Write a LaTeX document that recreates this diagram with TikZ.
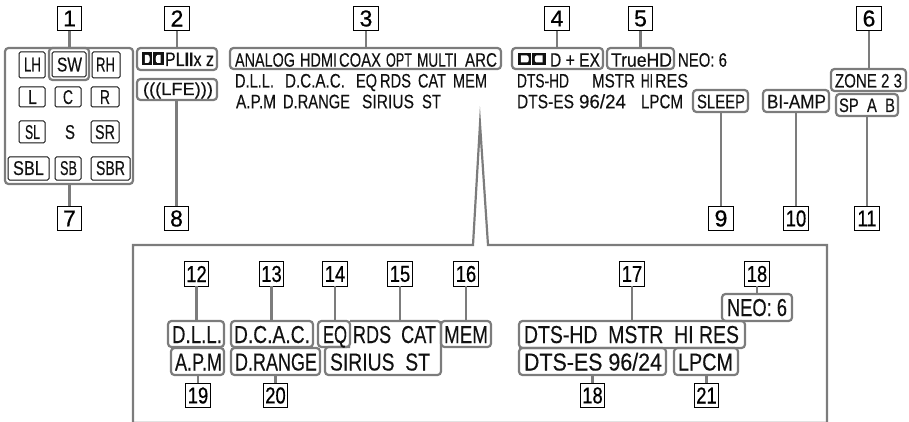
\documentclass[tikz,border=0pt]{standalone}
\usepackage{graphicx}
\usepackage{fontspec}
\setmainfont{Liberation Sans}[FakeBold=0.25]
\newfontfamily\numfont{Liberation Sans}[FakeBold=0.6]
\definecolor{gline}{HTML}{7C7C7C}
\definecolor{ink}{HTML}{111111}
\tikzset{
  gbox/.style={draw=gline,line width=2.2pt,rounded corners=3.5pt,inner sep=0pt,outer sep=0pt},
  conn/.style={draw=gline,line width=2.2pt},
  numbox/.style={draw=black,line width=1pt,fill=white,inner sep=0pt,outer sep=0pt,minimum width=24.5pt,minimum height=24.5pt,text=black,font=\numfont\fontsize{23}{23}\selectfont},
  chan/.style={draw=ink,line width=1pt,rounded corners=1.5pt,inner sep=0pt,outer sep=0pt},
  lbl/.style={inner sep=0pt,outer sep=0pt,anchor=base west,text=ink}
}
% name x1 x2 baseline size text
\newcommand\tx[6]{\pgfmathsetmacro\twid{#3-#2}\node[lbl] (#1) at (#2,#4) {\resizebox{\twid pt}{\height}{\fontsize{#5}{#5}\selectfont #6}};}
% name x1 y1 x2 y2
\newcommand\gb[5]{\node[gbox,minimum width={(#4-#2)*1pt},minimum height={(#5-#3)*1pt}] (#1) at ({(#2+#4)/2},{(#3+#5)/2}) {};}
\newcommand\cb[5]{\node[chan,minimum width={(#4-#2)*1pt},minimum height={(#5-#3)*1pt}] (#1) at ({(#2+#4)/2},{(#3+#5)/2}) {};}
\newcommand\nb[3]{\node[numbox] (n#1) at (#2,#3) {#1};}
\newcommand\nbb[4]{\node[numbox] (#1) at (#3,#4) {\scalebox{.8}[1]{#2}};}
% Dolby mark: x1 y1 x2 y2
\newcommand\dolby[4]{%
  \pgfmathsetmacro\dm{(#1+#3)/2}%
  \fill[ink] (#1,#2) rectangle ({\dm-0.3},#4);
  \fill[ink] ({\dm+0.3},#2) rectangle (#3,#4);
  \fill[white] ({#1+2.8},{#2+2.5}) -- ({\dm-4.6},{#2+2.5}) .. controls ({\dm-2.4},{#2+2.5}) and ({\dm-2.4},{#4-2.5}) .. ({\dm-4.6},{#4-2.5}) -- ({#1+2.8},{#4-2.5}) -- cycle;
  \fill[white] ({#3-2.8},{#2+2.5}) -- ({\dm+4.6},{#2+2.5}) .. controls ({\dm+2.4},{#2+2.5}) and ({\dm+2.4},{#4-2.5}) .. ({\dm+4.6},{#4-2.5}) -- ({#3-2.8},{#4-2.5}) -- cycle;
}
\begin{document}
\begin{tikzpicture}[x=1pt,y=-1pt]
\useasboundingbox (0,0) rectangle (909,422);
% detail frame and callout
\draw[gline!22,line width=1pt] (133,421.5) -- (827,421.5);
\draw[conn,miter limit=20] (133,422) -- (133,245) -- (473,245) -- (480,124) -- (488,245) -- (827,245) -- (827,422);

% number boxes, top
\nb{1}{69.5}{18.5}
\nb{2}{177}{18.5}
\nb{3}{366}{18.5}
\nb{4}{557}{18.5}
\nb{5}{640.5}{18.5}
\nb{6}{869}{18.5}
\nb{7}{69.5}{218.5}
\nb{8}{176.5}{218.5}
\nb{9}{721}{218.5}
\nbb{n10}{10}{796}{218.5}
\nbb{n11}{11}{867}{218.5}
% number boxes, detail
\nbb{n12}{12}{196.5}{274}
\nbb{n13}{13}{271.5}{274}
\nbb{n14}{14}{335}{274}
\nbb{n15}{15}{400}{274}
\nbb{n16}{16}{466}{274}
\nbb{n17}{17}{632}{274}
\nbb{n18a}{18}{757}{274}
\nbb{n19}{19}{198}{395.5}
\nbb{n20}{20}{275.5}{395.5}
\nbb{n18b}{18}{592.5}{395.5}
\nbb{n21}{21}{706.5}{395.5}

% gray boxes, top
\gb{outer}{5}{48}{133}{184}
\gb{swbox}{49}{48}{89}{80}
\gb{plbox}{137}{48}{217}{70}
\gb{lfebox}{137}{79}{217}{100}
\gb{inbox}{230}{48}{501}{69}
\gb{ddbox}{512}{48}{603}{69}
\gb{thdbox}{607}{48}{674}{69}
\gb{slpbox}{693}{90}{748}{112}
\gb{bibox}{763}{90}{829}{112}
\gb{zonebox}{831}{69}{906}{91}
\gb{spbox}{836}{94}{898}{116}
% gray boxes, detail
\gb{dll}{168}{321}{224}{347}
\gb{dcac}{231}{321}{313}{347}
\gb{eq}{318}{321}{350}{347}
\gb{mem}{441}{321}{491}{347}
\gb{apm}{171}{348}{224}{375}
\gb{drange}{231}{348}{320}{375}
\gb{dtshd}{519}{321}{745}{348}
\gb{dtses}{519}{348}{666}{375}
\gb{lpcm}{674}{348}{738}{375}
\gb{neo}{722}{294}{792}{321}
\draw[gline,line width=2.2pt,rounded corners=3.5pt] (350,321) -- (441,321) -- (441,375) -- (325,375) -- (325,347) -- (350,347);
\coordinate (rds) at (400,321);

% connectors
\draw[conn] (n1.south) -- (n1.south |- outer.north);
\draw[conn] (n2.south) -- (n2.south |- plbox.north);
\draw[conn] (n3.south) -- (n3.south |- inbox.north);
\draw[conn] (n4.south) -- (n4.south |- ddbox.north);
\draw[conn] (n5.south) -- (n5.south |- thdbox.north);
\draw[conn] (n6.south) -- (n6.south |- zonebox.north);
\draw[conn] (n7.north) -- (n7.north |- outer.south);
\draw[conn] (n8.north) -- (n8.north |- lfebox.south);
\draw[conn] (n9.north) -- (n9.north |- slpbox.south);
\draw[conn] (n10.north) -- (n10.north |- bibox.south);
\draw[conn] (n11.north) -- (n11.north |- spbox.south);
\draw[conn] (n12.south) -- (n12.south |- dll.north);
\draw[conn] (n13.south) -- (n13.south |- dcac.north);
\draw[conn] (n14.south) -- (n14.south |- eq.north);
\draw[conn] (n15.south) -- (rds);
\draw[conn] (n16.south) -- (n16.south |- mem.north);
\draw[conn] (n17.south) -- (n17.south |- dtshd.north);
\draw[conn] (n18a.south) -- (n18a.south |- neo.north);
\draw[conn] (n19.north) -- (n19.north |- apm.south);
\draw[conn] (n20.north) -- (n20.north |- drange.south);
\draw[conn] (n18b.north) -- (n18b.north |- dtses.south);
\draw[conn] (n21.north) -- (n21.north |- lpcm.south);

% channel boxes
\cb{cLH}{19}{52}{45}{78}
\cb{cSW}{52}{52}{86}{77}
\cb{cRH}{92}{52}{120}{78}
\cb{cL}{19}{87}{45}{107}
\cb{cC}{55}{87}{81}{107}
\cb{cR}{91}{87}{119}{107}
\cb{cSL}{19}{121}{45}{143}
\cb{cSR}{91}{121}{119}{143}
\cb{cSBL}{8}{157}{49}{180}
\cb{cSB}{55}{157}{81}{180}
\cb{cSBR}{91}{157}{130}{180}
\tx{tLH}{24}{41}{71.5}{20}{LH}
\tx{tSW}{57}{82}{71.5}{20}{SW}
\tx{tRH}{96}{115}{71.5}{20}{RH}
\tx{tL}{28}{37}{104}{20}{L}
\tx{tC}{63}{73}{104}{20}{C}
\tx{tR}{100}{110}{104}{20}{R}
\tx{tSL}{25}{40}{139}{20}{SL}
\tx{tS}{65}{75}{139}{20}{S}
\tx{tSR}{95}{115}{139}{20}{SR}
\tx{tSBL}{13}{44}{175}{20}{SBL}
\tx{tSB}{60}{77}{175}{20}{SB}
\tx{tSBR}{96}{125}{175}{20}{SBR}

% top texts
\dolby{142}{52.5}{163.5}{65.5}
\tx{tPL}{165}{214}{66}{19.5}{PL{\bfseries II}x z}
\tx{tLFE}{143}{213}{95}{17.5}{(((LFE)))}
\tx{tANALOG}{235}{295}{66.7}{19.5}{ANALOG}
\tx{tHDMI}{300}{337}{66.7}{19.5}{HDMI}
\tx{tCOAX}{339}{381}{66.7}{19.5}{COAX}
\tx{tOPT}{386}{412}{66.7}{19.5}{OPT}
\tx{tMULTI}{417}{457}{66.7}{19.5}{MULTI}
\tx{tARC}{465}{497}{66.7}{19.5}{ARC}
\tx{tDLLs}{235}{274}{87.5}{19.5}{D.L.L.}
\tx{tDCACs}{285}{345}{87.5}{19.5}{D.C.A.C.}
\tx{tEQs}{356}{377}{87.5}{19.5}{EQ}
\tx{tRDSs}{380}{411}{87.5}{19.5}{RDS}
\tx{tCATs}{418}{446}{87.5}{19.5}{CAT}
\tx{tMEMs}{453}{487}{87.5}{19.5}{MEM}
\tx{tAPMs}{236}{276}{108.3}{19.5}{A.P.M}
\tx{tDRs}{283}{350}{108.3}{19.5}{D.RANGE}
\tx{tSIRs}{362}{414}{108.3}{19.5}{SIRIUS}
\tx{tSTs}{422}{441}{108.3}{19.5}{ST}
\dolby{518}{53}{545.5}{65}
\tx{tDEX}{550}{600}{66.7}{19.5}{D + EX}
\tx{tTHD}{611}{672}{66.7}{19.5}{TrueHD}
\tx{tNEOs}{678}{727}{66.7}{19.5}{NEO: 6}
\tx{tHDs}{517}{569}{87.5}{19.5}{DTS-HD}
\tx{tMSs}{592}{635}{87.5}{19.5}{MSTR}
\tx{tHIs}{641}{653}{87.5}{19.5}{HI}
\tx{tREs}{655}{688}{87.5}{19.5}{RES}
\tx{tESs}{517}{574}{108.3}{19.5}{DTS-ES}
\tx{t96s}{579}{626}{108.3}{19.5}{96/24}
\tx{tLPs}{641}{683}{108.3}{19.5}{LPCM}
\tx{tSLP}{697}{745}{108.3}{19.5}{SLEEP}
\tx{tBI}{767}{826}{108.3}{19.5}{BI-AMP}
\tx{tZONE}{835}{902}{87.5}{19.5}{ZONE 2 3}
\tx{tSP}{839}{895}{112}{19.5}{SP\ \ A\ \ B}

% detail texts
\tx{dDLL}{172}{222}{343}{24.5}{D.L.L.}
\tx{dDCAC}{234}{310}{343}{24.5}{D.C.A.C.}
\tx{dEQ}{323}{347}{343}{24.5}{EQ}
\tx{dRDS}{353}{436}{343}{24.5}{RDS\ \ CAT}
\tx{dMEM}{444}{488}{343}{24.5}{MEM}
\tx{dAPM}{175}{222}{370.5}{24.5}{A.P.M}
\tx{dDR}{235}{317}{370.5}{24.5}{D.RANGE}
\tx{dSIR}{330}{430}{370.5}{24.5}{SIRIUS\ \ ST}
\tx{dHD}{524}{739}{343}{24.5}{DTS-HD\ \ MSTR\ \ HI RES}
\tx{dES}{524}{662}{370.5}{24.5}{DTS-ES 96/24}
\tx{dLP}{678}{733}{370.5}{24.5}{LPCM}
\tx{dNEO}{727}{787}{316}{24.5}{NEO: 6}
\end{tikzpicture}
\end{document}
